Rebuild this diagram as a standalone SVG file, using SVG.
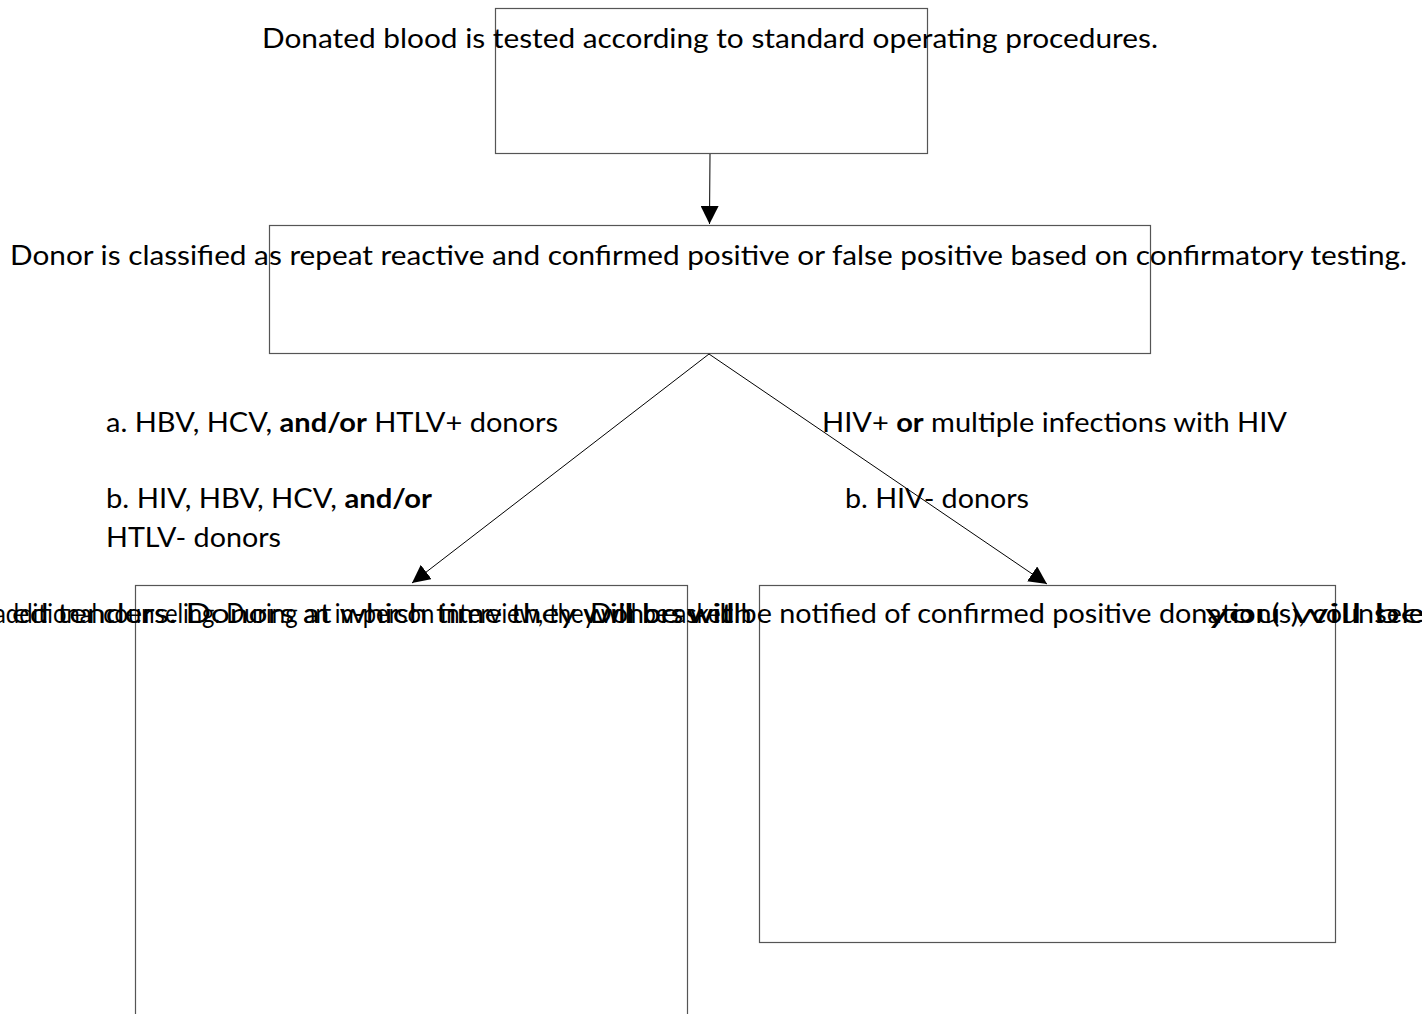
<svg xmlns="http://www.w3.org/2000/svg" width="1422" height="1014" viewBox="0 0 1422 1014">
<style>
  .box { fill: #ffffff; stroke: #555555; stroke-width: 1.2; }
  .t { font-family: Lato, "Noto Sans", "Liberation Sans", sans-serif; font-size: 27px; fill: #000000; }
  .b { font-weight: bold; }
  .edge { stroke: #000000; stroke-width: 1; fill: none; marker-end: url(#arr); }
</style>
<defs>
  <marker id="arr" viewBox="0 0 10 10" refX="10" refY="5" markerWidth="18" markerHeight="18" markerUnits="userSpaceOnUse" orient="auto">
    <path d="M0,0 L10,5 L0,10 z" fill="#000000"/>
  </marker>
</defs>
<rect width="1422" height="1014" fill="#ffffff"/>
<g id="node-test">
  <rect class="box" x="495.5" y="8.5" width="432" height="145"/>
  <text class="t" x="262" y="48" textLength="896" lengthAdjust="spacingAndGlyphs">Donated blood is tested according to standard operating procedures.</text>
</g>
<g id="node-classify">
  <rect class="box" x="269.5" y="225.5" width="881" height="128"/>
  <text class="t" x="10" y="265" textLength="1397" lengthAdjust="spacingAndGlyphs">Donor is classified as repeat reactive and confirmed positive or false positive based on confirmatory testing.</text>
</g>
<g id="label-left">
  <text class="t" x="106" y="432" textLength="452" lengthAdjust="spacingAndGlyphs">a. HBV, HCV, <tspan class="b">and/or</tspan> HTLV+ donors</text>
  <text class="t" x="106" y="508" textLength="326" lengthAdjust="spacingAndGlyphs">b. HIV, HBV, HCV, <tspan class="b">and/or</tspan></text>
  <text class="t" x="106" y="547" textLength="175" lengthAdjust="spacingAndGlyphs">HTLV- donors</text>
</g>
<g id="label-right">
  <text class="t" x="822" y="432" textLength="465" lengthAdjust="spacingAndGlyphs">HIV+ <tspan class="b">or</tspan> multiple infections with HIV</text>
  <text class="t" x="845" y="508" textLength="184" lengthAdjust="spacingAndGlyphs">b. HIV- donors</text>
</g>
<g id="node-left">
  <rect class="box" x="135.5" y="585.5" width="552" height="440"/>
</g>
<g id="node-right">
  <rect class="box" x="759.5" y="585.5" width="576" height="357"/>
</g>
<g id="overlap-text">
  <text class="t" x="-6" y="623" textLength="740" lengthAdjust="spacingAndGlyphs">additional counseling. During an in-person interview, they will be asked</text>
  <text class="t" x="12" y="623" textLength="740" lengthAdjust="spacingAndGlyphs">ed tenders. Donors at which time they will be with</text>
  <text class="t" x="590" y="623" textLength="850" lengthAdjust="spacingAndGlyphs">Donors will be notified of confirmed positive donation(s), counseled</text>
  <text class="t" x="1205" y="623" textLength="220" lengthAdjust="spacingAndGlyphs">you will be</text>
</g>
<g id="connectors">
  <line class="edge" x1="710" y1="154" x2="709.5" y2="224"/>
  <line class="edge" x1="709" y1="354" x2="412" y2="583"/>
  <line class="edge" x1="709" y1="354" x2="1047" y2="584"/>
</g>
</svg>
